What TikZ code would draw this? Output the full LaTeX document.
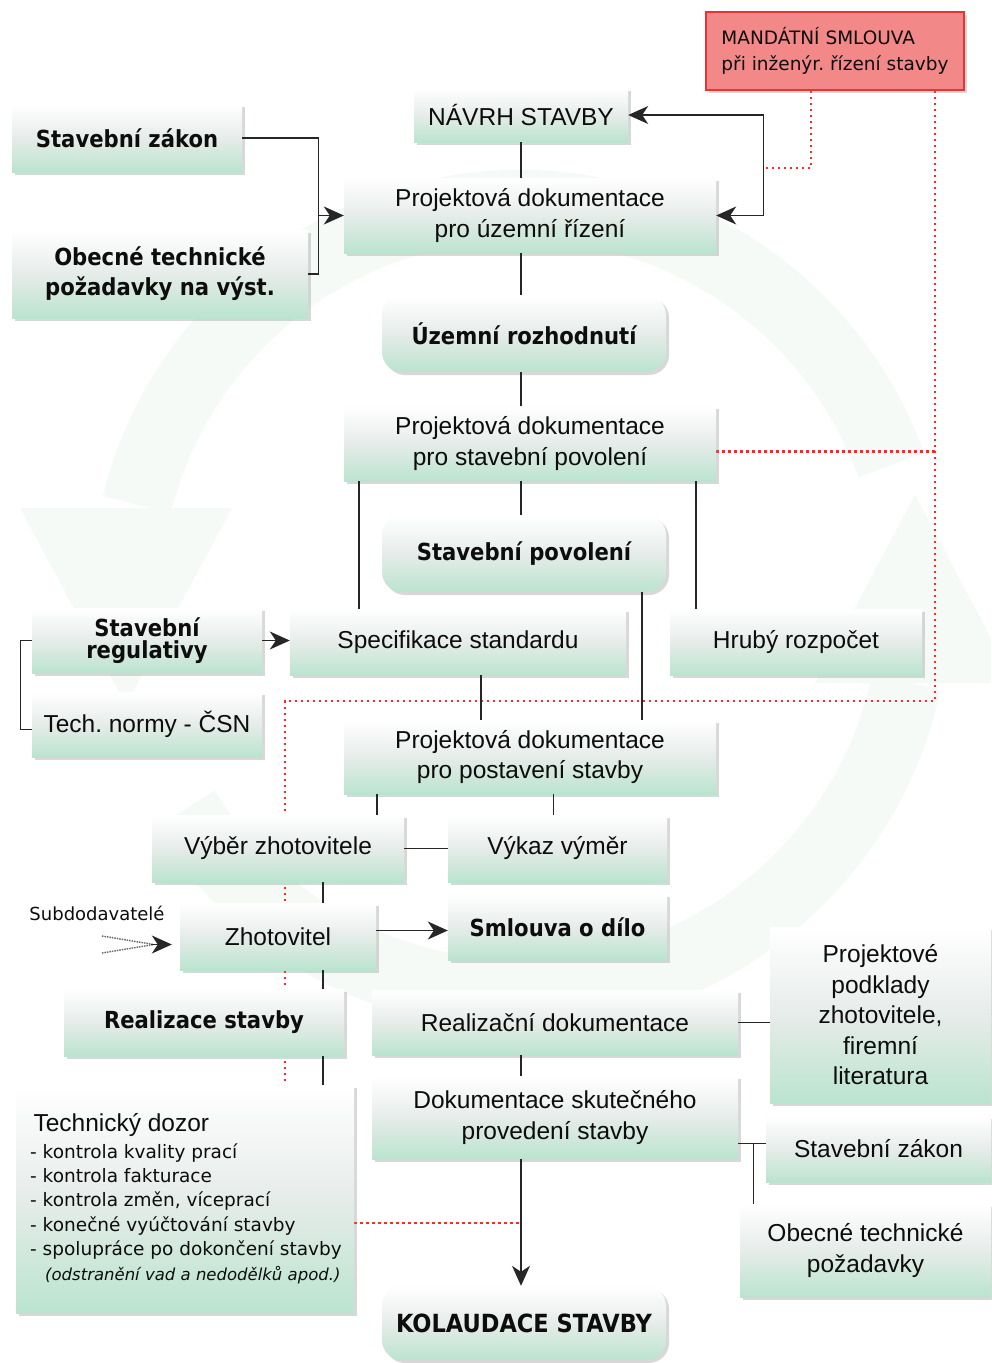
\documentclass[tikz,border=0pt]{standalone}
\usepackage{fontspec}
\setmainfont{Liberation Sans}
\newfontfamily\boxboldfont{DejaVu Sans}[FakeStretch=0.9]
\newfontfamily\dvsans{DejaVu Sans}
\usetikzlibrary{arrows.meta,shadows,backgrounds}
\definecolor{mint}{RGB}{186,228,207}
\definecolor{midgrey}{RGB}{230,236,233}
\definecolor{redfill}{RGB}{242,136,136}
\definecolor{redline}{RGB}{234,52,52}
\definecolor{dotred}{RGB}{255,40,40}
\definecolor{ringgreen}{RGB}{245,250,247}
\newcommand\normtext{\fontsize{24.5}{30.5}\selectfont}
\newcommand\boldtext{\boxboldfont\bfseries\fontsize{23.5}{30}\selectfont}
\frenchspacing

\begin{document}
\begin{tikzpicture}[x=1pt, y=-1pt,
  box/.style={top color=white, bottom color=mint, middle color=midgrey,
    drop shadow={shadow xshift=3pt, shadow yshift=-3pt, opacity=0.3},
    align=center, inner sep=0pt, text=black!95, font=\normtext},
  boldbox/.style={box, font=\boldtext},
  roundbox/.style={boldbox, rounded corners=20pt},
  redbox/.style={fill=redfill, draw=redline, line width=1.6pt, align=left,
    drop shadow={shadow xshift=3pt, shadow yshift=-3pt, opacity=0.3},
    text=black!95, font=\dvsans\fontsize{18.5}{26}\selectfont},
  conn/.style={line width=1.3pt, black!85},
  arr/.style={conn, -{Stealth[length=20pt,width=18pt,inset=6pt]}},
  reddot/.style={dotred, line width=2.6pt, dash pattern=on 2.6pt off 3.4pt},
  subdash/.style={black!60, line width=1.4pt, dash pattern=on 1.5pt off 1pt}
]
\useasboundingbox (0,0) rectangle (991,1363);

% boxes
\node[redbox, minimum width=258pt, minimum height=78pt] (mandat) at (835,51) {MANDÁTNÍ SMLOUVA\\při inženýr. řízení stavby};
\node[box, minimum width=214pt, minimum height=54pt] (navrh) at (521,115) {NÁVRH STAVBY};
\node[boldbox, minimum width=230pt, minimum height=68pt] (zakonA) at (127,138) {Stavební zákon};
\node[box, minimum width=372pt, minimum height=75pt] (pdur) at (530,215.5) {Projektová dokumentace\\pro územní řízení};
\node[boldbox, minimum width=296pt, minimum height=88pt] (obecneA) at (160,274) {Obecné technické\\požadavky na výst.};
\node[roundbox, minimum width=284pt, minimum height=77pt] (uzemni) at (524,333.5) {Územní rozhodnutí};
\node[box, minimum width=372pt, minimum height=75pt] (pdsp) at (530,443.5) {Projektová dokumentace\\pro stavební povolení};
\node[roundbox, minimum width=284pt, minimum height=77pt] (povol) at (524,553.5) {Stavební povolení};
\node[boldbox, minimum width=230pt, minimum height=65pt, font=\boxboldfont\bfseries\fontsize{23.5}{22}\selectfont] (regul) at (147,640.5) {Stavební\\regulativy};
\node[box, minimum width=336pt, minimum height=66pt] (spec) at (458,642) {Specifikace standardu};
\node[box, minimum width=252pt, minimum height=66pt] (hruby) at (796,642) {Hrubý rozpočet};
\node[box, minimum width=230pt, minimum height=65pt] (normy) at (147,724.5) {Tech. normy - ČSN};
\node[box, minimum width=372pt, minimum height=74pt] (pdps) at (530,757) {Projektová dokumentace\\pro postavení stavby};
\node[box, minimum width=252pt, minimum height=67pt] (vyber) at (278,848.5) {Výběr zhotovitele};
\node[box, minimum width=219pt, minimum height=67pt] (vykaz) at (557.5,848.5) {Výkaz výměr};
\node[box, minimum width=196pt, minimum height=67pt] (zhot) at (278,936.5) {Zhotovitel};
\node[boldbox, minimum width=219pt, minimum height=66pt] (smlouva) at (557.5,927) {Smlouva o dílo};
\node[text=black!95, font=\dvsans\fontsize{18}{22}\selectfont] (subdod) at (97,913) {Subdodavatelé};
\node[box, minimum width=221pt, minimum height=176pt] (podklady) at (880.5,1015) {Projektové\\podklady\\zhotovitele,\\firemní\\literatura};
\node[boldbox, minimum width=280pt, minimum height=67pt] (realiz) at (204,1022.5) {Realizace stavby};
\node[box, minimum width=366pt, minimum height=65pt] (realdok) at (555,1022.5) {Realizační dokumentace};
\node[box, minimum width=338pt, minimum height=228pt] (dozor) at (185,1199) {};
\node[anchor=base west, text=black!95, font=\normtext] (dozorhead) at (30,1131) {Technický dozor};
\node[anchor=north west, align=left, inner sep=0pt, text=black!95, font=\dvsans\fontsize{18.5}{24.4}\selectfont] (dozorlist) at (30,1143)
  {- kontrola kvality prací\\- kontrola fakturace\\- kontrola změn, víceprací\\- konečné vyúčtování stavby\\- spolupráce po dokončení stavby\\
   \hspace*{15pt}{\itshape\fontsize{16.5}{24.4}\selectfont(odstranění vad a nedodělků apod.)}};
\node[box, minimum width=366pt, minimum height=83pt] (skut) at (555,1117.5) {Dokumentace skutečného\\provedení stavby};
\node[box, minimum width=225pt, minimum height=66pt] (zakonB) at (878.5,1149) {Stavební zákon};
\node[box, minimum width=251pt, minimum height=93pt] (obecneB) at (865.5,1250.5) {Obecné technické\\požadavky};
\node[roundbox, minimum width=284pt, minimum height=74pt, font=\boxboldfont\bfseries\fontsize{25}{30}\selectfont] (kolaud) at (524,1323) {KOLAUDACE STAVBY};

% main chain
\draw[conn] (navrh.south) -- (navrh.south |- pdur.north);
\draw[conn] (navrh.south |- pdur.south) -- (navrh.south |- uzemni.north);
\draw[conn] (navrh.south |- uzemni.south) -- (navrh.south |- pdsp.north);
\draw[conn] (navrh.south |- pdsp.south) -- (navrh.south |- povol.north);
\draw[conn, {Stealth[length=20pt,width=18pt,inset=6pt]}-{Stealth[length=20pt,width=18pt,inset=6pt]}] (navrh.east) -| ([xshift=47pt]pdur.east) -- (pdur.east);
\draw[conn] (zakonA.east) -| ([xshift=10pt]obecneA.east) -- (obecneA.east);
\coordinate (j1) at ([xshift=10pt]obecneA.east);
\draw[arr] (j1 |- pdur.west) -- (pdur.west);

% branches below pdsp
\coordinate (p1) at ([xshift=-99pt]spec.north);
\draw[conn] (p1 |- pdsp.south) -- (p1);
\coordinate (p2) at ([xshift=-100pt]hruby.north);
\draw[conn] (p2 |- pdsp.south) -- (p2);
\coordinate (p3) at ([xshift=118pt]povol.south);
\draw[conn] (p3) -- (p3 |- pdps.north);
\coordinate (p4) at ([xshift=23pt]spec.south);
\draw[conn] (p4) -- (p4 |- pdps.north);
\draw[arr] (regul.east) -- (regul.east -| spec.west);
\draw[conn] (regul.west) -- ++(-11,0) |- ([yshift=-5pt]normy.west);

% lower part
\coordinate (q1) at ([xshift=99pt]vyber.north);
\draw[conn] (q1 |- pdps.south) -- (q1);
\coordinate (q2) at ([xshift=-4pt]vykaz.north);
\draw[conn] (q2 |- pdps.south) -- (q2);
\draw[conn] (vyber.east) -- (vyber.east -| vykaz.west);
\coordinate (q3) at ([xshift=45pt]vyber.south);
\draw[conn] (q3) -- (q3 |- zhot.north);
\draw[conn] (q3 |- zhot.south) -- (q3 |- realiz.north);
\draw[conn] (q3 |- realiz.south) -- (q3 |- dozor.north);
\coordinate (q4) at ([yshift=6pt]zhot.east);
\draw[arr] (q4) -- (q4 -| smlouva.west);
\draw[conn] (realdok.east) -- (realdok.east -| podklady.west);
\draw[conn] (navrh.south |- realdok.south) -- (navrh.south |- skut.north);
\draw[arr] (navrh.south |- skut.south) -- (navrh.south |- kolaud.north);
\coordinate (s1) at ([yshift=-26pt]skut.east);
\draw[conn] (s1) -- (s1 -| zakonB.west);
\coordinate (s2) at ([xshift=15pt]s1);
\draw[conn] (s2) -- (s2 |- obecneB.north);

% subcontractors
\coordinate (sdtip) at ([xshift=-8pt,yshift=-8pt]zhot.west);
\coordinate (sd1) at (102,936);
\coordinate (sd2) at (102,953);
\draw[subdash] (sd1) -- ([xshift=-18pt]sdtip);
\draw[subdash] (sd2) -- ([xshift=-18pt]sdtip);
\draw[arr] ([xshift=-21pt]sdtip) -- (sdtip);

\begin{pgfonlayer}{background}
\fill[white] (0,0) rectangle (991,1363);
\begin{scope}
\clip (0,0) rectangle (991,1363);
\draw[ringgreen, line width=70pt] ([shift={(-20:395)}]520,600) arc[start angle=-20, end angle=-166, radius=395];
\draw[ringgreen, line width=70pt] ([shift={(-212:395)}]520,600) arc[start angle=-212, end angle=-348, radius=395];
\fill[ringgreen] (20,508) -- (232,508) -- (126,705) -- cycle;
\fill[ringgreen] (815,683) -- (1015,683) -- (915,495) -- cycle;
\end{scope}
% red dotted links
\coordinate (m1) at ([xshift=-24pt]mandat.south);
\coordinate (m1end) at (766,168);
\draw[reddot] (m1) |- (m1end);
\coordinate (m2) at ([xshift=100pt]mandat.south);
\coordinate (r1) at (285,701);
\draw[reddot] (m2) |- (r1) -- (r1 |- dozor.north);
\coordinate (r2) at ([yshift=-8pt]pdsp.east);
\draw[reddot] (r2) -- (r2 -| m2);
\coordinate (r3) at ([yshift=-24pt]dozor.east);
\draw[reddot] (r3) -- (r3 -| navrh.south);
\end{pgfonlayer}
\end{tikzpicture}
\end{document}
